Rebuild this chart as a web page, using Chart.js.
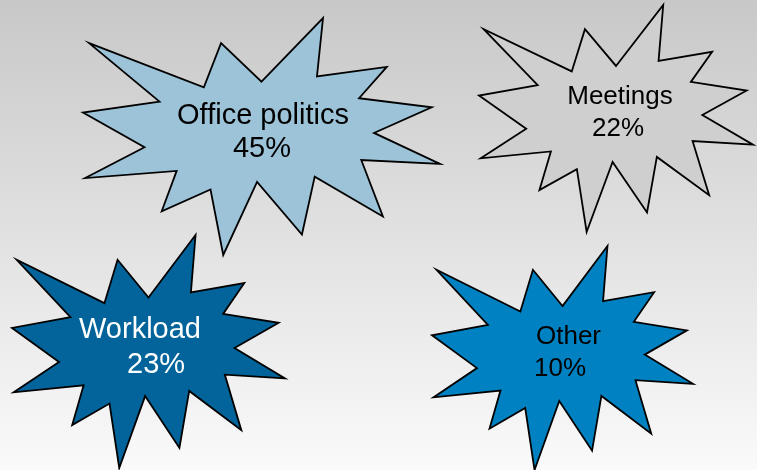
<!DOCTYPE html>
<html>
<head>
<meta charset="utf-8">
<script src="https://cdn.jsdelivr.net/npm/chart.js@4"></script>
<style>
  html, body { margin: 0; padding: 0; background: #fff; }
  #wrap { width: 757px; height: 470px; }
</style>
</head>
<body>
<div id="wrap"><canvas id="burstChart" width="757" height="470"></canvas></div>
<script>
// data
const categories = ['Office politics', 'Meetings', 'Workload', 'Other'];
const shares = [45, 22, 23, 10];

// placement of each burst (box in page pixels) and its label lines
const layout = [
  { box: [83, 18, 440, 255], fill: '#9cc3d8', text: '#000', size: 29, lines: [[263, 124, 'center'], [262, 157, 'center']] },
  { box: [479, 5, 753, 232], fill: '#cfcfcf', text: '#000', size: 26, lines: [[620, 104, 'center'], [618, 136, 'center']] },
  { box: [12, 235, 285, 468], fill: '#02649a', text: '#fff', size: 29, lines: [[79, 338, 'left'], [127, 373, 'left']] },
  { box: [432, 246, 693, 470], fill: '#0082c2', text: '#000', size: 26, lines: [[536, 344, 'left'], [534, 376, 'left']] }
];

// "explosion" outline, 21600 unit box
const burst = [
  [10800, 5800], [14522, 0], [14155, 5325], [18380, 4457], [16702, 7315],
  [21097, 8137], [17607, 10475], [21600, 13290], [16837, 12942], [18145, 18095],
  [14020, 14457], [13247, 19737], [10532, 14935], [8485, 21600], [7715, 15627],
  [4762, 17617], [5667, 13937], [135, 14587], [3722, 11775], [0, 8615],
  [4627, 7617], [370, 2295], [7312, 6320], [8352, 2295]
];

const backdrop = {
  id: 'backdrop',
  beforeDraw(chart) {
    const { ctx, width, height } = chart;
    const g = ctx.createLinearGradient(0, 0, 0, height);
    g.addColorStop(0, '#c8c8c8');
    g.addColorStop(1, '#fafafa');
    ctx.save();
    ctx.fillStyle = g;
    ctx.fillRect(0, 0, width, height);
    ctx.restore();
  }
};

const bursts = {
  id: 'bursts',
  afterDatasetsDraw(chart) {
    const ctx = chart.ctx;
    const meta = chart.getDatasetMeta(0);
    meta.data.forEach((pt, i) => {
      const L = layout[i];
      const w = L.box[2] - L.box[0], h = L.box[3] - L.box[1];
      ctx.save();
      ctx.beginPath();
      burst.forEach(([bx, by], k) => {
        const px = pt.x + (bx / 21600 - 0.5) * w;
        const py = pt.y + (by / 21600 - 0.5) * h;
        k ? ctx.lineTo(px, py) : ctx.moveTo(px, py);
      });
      ctx.closePath();
      ctx.fillStyle = L.fill;
      ctx.fill();
      ctx.lineWidth = 1.8;
      ctx.lineJoin = 'miter';
      ctx.strokeStyle = '#000';
      ctx.stroke();

      ctx.fillStyle = L.text;
      ctx.font = L.size + 'px "Liberation Sans", Arial, sans-serif';
      ctx.textBaseline = 'alphabetic';
      const txt = [categories[i], shares[i] + '%'];
      L.lines.forEach(([tx, ty, al], j) => {
        ctx.textAlign = al;
        ctx.fillText(txt[j], tx, ty);
      });
      ctx.restore();
    });
  }
};

new Chart(document.getElementById('burstChart'), {
  type: 'scatter',
  data: {
    labels: categories,
    datasets: [{
      data: layout.map(L => ({ x: (L.box[0] + L.box[2]) / 2, y: (L.box[1] + L.box[3]) / 2 })),
      pointRadius: 0,
      pointHoverRadius: 0
    }]
  },
  options: {
    responsive: false,
    animation: false,
    events: [],
    layout: { padding: 0 },
    plugins: { legend: { display: false }, tooltip: { enabled: false } },
    scales: {
      x: { type: 'linear', min: 0, max: 757, display: false },
      y: { type: 'linear', min: 0, max: 470, reverse: true, display: false }
    }
  },
  plugins: [backdrop, bursts]
});
</script>
</body>
</html>
